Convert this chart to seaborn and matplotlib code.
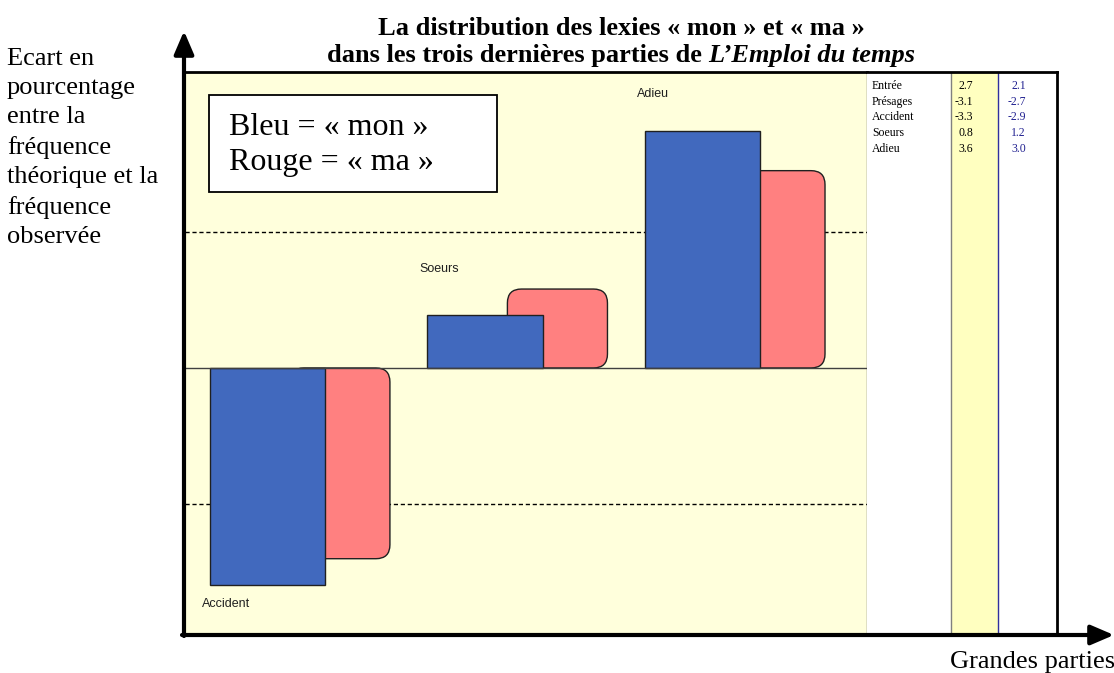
import numpy as np
import pandas as pd
import seaborn as sns
import matplotlib.pyplot as plt
from matplotlib.patches import FancyBboxPatch, FancyArrowPatch, Rectangle

# values (écart en %, mon / ma)
categories = ['Accident', 'Soeurs', 'Adieu']
mon_values = [-3.3, 0.8, 3.6]
ma_values = [-2.9, 1.2, 3.0]

# the little table on the right
table_parts = ['Entrée', 'Présages', 'Accident', 'Soeurs', 'Adieu']
table_mon = [2.7, -3.1, -3.3, 0.8, 3.6]
table_ma = [2.1, -2.7, -2.9, 1.2, 3.0]

blue = '#4169BE'
red = '#FF8080'
cream = '#FFFFDC'
serif = ['Liberation Serif', 'DejaVu Serif']
sans = ['Liberation Sans', 'DejaVu Sans']

sns.set_style('white')
plt.rcParams['text.color'] = 'black'
W, H = 1114, 673
fig = plt.figure(figsize=(W / 100, H / 100), dpi=100)

def px_box(x0, y0, x1, y1):
    # pixel box (top-down y) -> figure fraction rect
    return [x0 / W, 1 - y1 / H, (x1 - x0) / W, (y1 - y0) / H]

ax = fig.add_axes(px_box(185, 72, 867, 635))
ax.set_facecolor(cream)

df = pd.DataFrame({'part': categories, 'mon': mon_values, 'ma': ma_values})
df['pos'] = np.arange(len(df), dtype=float)
df['pos_ma'] = df['pos'] + 0.333

sns.barplot(data=df, x='pos_ma', y='ma', native_scale=True, width=0.46,
            color=red, saturation=1, edgecolor='#202020', linewidth=1, ax=ax, zorder=2)
sns.barplot(data=df, x='pos', y='mon', native_scale=True, width=0.53,
            color=blue, saturation=1, edgecolor='#202020', linewidth=1, ax=ax, zorder=3)

xlim = (-0.379, 2.756)
ylim = (-4.06, 4.50)
ax.set_xlim(*xlim)
ax.set_ylim(*ylim)

# round the corners of the "ma" bars
ax_w, ax_h = 867 - 185, 635 - 72
aspect = ((ylim[1] - ylim[0]) / ax_h) / ((xlim[1] - xlim[0]) / ax_w)
rad = 14 * (xlim[1] - xlim[0]) / ax_w
for p in list(ax.patches):
    if p.get_zorder() == 2:
        x0, y0 = p.get_x(), p.get_y()
        w, h = p.get_width(), p.get_height()
        if h < 0:
            y0, h = y0 + h, -h
        p.remove()
        ax.add_patch(FancyBboxPatch((x0, y0), w, h,
                                    boxstyle=f'round,pad=0,rounding_size={rad}',
                                    mutation_aspect=aspect, facecolor=red,
                                    edgecolor='#202020', linewidth=1, zorder=2))

ax.axhline(0, color='#404040', lw=1, zorder=4)
for lev in (2.07, -2.07):
    ax.axhline(lev, color='black', lw=1, ls=(0, (3, 2)), zorder=1.5)

# category labels next to the bars
label_y = [-3.59, 1.50, 4.17]
for pos, name, ly in zip(df['pos'], categories, label_y):
    ax.text(pos - 0.30, ly, name, ha='left', va='center', fontsize=9,
            family=sans, color='#202020')

ax.set_xticks([])
ax.set_yticks([])
ax.set_xlabel('')
ax.set_ylabel('')
for s in ('left', 'bottom'):
    ax.spines[s].set_visible(False)
ax.spines['top'].set_linewidth(2)
ax.spines['top'].set_color('black')
ax.spines['right'].set_linewidth(1)
ax.spines['right'].set_color('#606060')

# legend box
ax.add_artist(Rectangle((209 / W, 1 - 192 / H), (497 - 209) / W, (192 - 95) / H,
                        transform=fig.transFigure, facecolor='white',
                        edgecolor='black', lw=1.3, zorder=5))
fig.text(229 / W, 1 - 135 / H, 'Bleu = « mon »', fontsize=23, family=serif,
         va='baseline', zorder=6)
fig.text(229 / W, 1 - 170 / H, 'Rouge = « ma »', fontsize=23, family=serif,
         va='baseline', zorder=6)

# side table
tab = fig.add_axes(px_box(867, 72, 1057, 635))
tab.set_xlim(0, 190)
tab.set_ylim(563, 0)
tab.set_facecolor('white')
tab.axvspan(84, 131, color='#FFFFC0', zorder=0)
tab.axvline(84, color='#808080', lw=1)
tab.axvline(131, color='#3030A0', lw=1)
tab.set_xticks([])
tab.set_yticks([])
for s in ('left', 'bottom'):
    tab.spines[s].set_visible(False)
tab.spines['top'].set_linewidth(2)
tab.spines['right'].set_linewidth(2)
tab.spines['top'].set_color('black')
tab.spines['right'].set_color('black')
row_y = [14, 30, 45, 61, 77]
for ry, name, vm, va_ in zip(row_y, table_parts, table_mon, table_ma):
    tab.text(5, ry, name, fontsize=8.5, family=serif, va='center', ha='left')
    tab.text(106, ry, f'{vm:.1f}', fontsize=8.5, family=serif, va='center', ha='right')
    tab.text(159, ry, f'{va_:.1f}', fontsize=8.5, family=serif, va='center',
             ha='right', color='#202090')

# axis arrows
def fpt(x, y):
    return (x / W, 1 - y / H)

for a, b in ((fpt(184, 636), fpt(184, 31)), (fpt(182, 635), fpt(1114, 635))):
    fig.add_artist(FancyArrowPatch(a, b, transform=fig.transFigure,
                                   arrowstyle='-|>,head_length=0.7,head_width=0.3',
                                   mutation_scale=20, lw=3, color='black',
                                   shrinkA=0, shrinkB=0, zorder=10))

# axis captions
fig.text(7 / W, 1 - 148 / H,
         'Ecart en\npourcentage\nentre la\nfréquence\nthéorique et la\nfréquence\nobservée',
         fontsize=19, family=serif, va='center', ha='left', linespacing=1.42)
fig.text(950 / W, 1 - 662 / H, 'Grandes parties', fontsize=19, family=serif,
         va='center', ha='left')

# title, second line mixes bold and bold italic
fig.text(621 / W, 1 - 35 / H, 'La distribution des lexies « mon » et « ma »',
         fontsize=19, family=serif, weight='bold', ha='center', va='baseline')
t1 = fig.text(0, 1 - 62 / H, 'dans les trois dernières parties de ', fontsize=19,
              family=serif, weight='bold', ha='left', va='baseline')
t2 = fig.text(0, 1 - 62 / H, 'L’Emploi du temps', fontsize=19, family=serif,
              weight='bold', style='italic', ha='left', va='baseline')
r = fig.canvas.get_renderer()
w1 = t1.get_window_extent(r).width
w2 = t2.get_window_extent(r).width
start = 621 - (w1 + w2) / 2
t1.set_x(start / W)
t2.set_x((start + w1) / W)

fig.savefig('out.png', dpi=100)
